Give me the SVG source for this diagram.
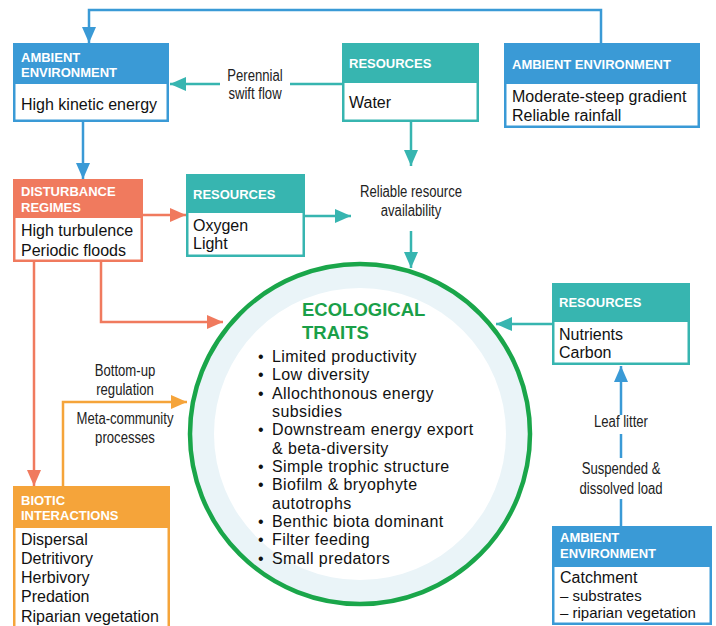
<svg xmlns="http://www.w3.org/2000/svg" width="716" height="626" viewBox="0 0 716 626">
<style>
.hd{font-family:"Liberation Sans",Arial,sans-serif;font-weight:bold;font-size:13px;fill:#fff}
.bd{font-family:"Liberation Sans",Arial,sans-serif;font-size:16px;fill:#111}
.sm{font-family:"Liberation Sans",Arial,sans-serif;font-size:15px;fill:#111}
.lb{font-family:"Liberation Sans",Arial,sans-serif;font-size:16px;fill:#222;text-anchor:middle}
.tr{font-family:"Liberation Sans",Arial,sans-serif;font-size:16px;fill:#111;letter-spacing:0.4px}
.ttl{font-family:"Liberation Sans",Arial,sans-serif;font-weight:bold;font-size:18.5px;fill:#1a9f48}
.blue{fill:#3a9ad6}.teal{fill:#37b5b0}.sal{fill:#f07a5e}.org{fill:#f5a43a}
.wb{fill:#fff}
.c{fill:none;stroke-width:2.5}
.cb{stroke:#3a9ad6}.ct{stroke:#37b5b0}.cs{stroke:#f07a5e}.co{stroke:#f5a43a}
</style>
<defs>
<marker id="ab" markerUnits="userSpaceOnUse" markerWidth="16" markerHeight="14" refX="16" refY="7" orient="auto"><path d="M0,0 L16,7 L0,14 z" fill="#3a9ad6"/></marker>
<marker id="at" markerUnits="userSpaceOnUse" markerWidth="16" markerHeight="14" refX="16" refY="7" orient="auto"><path d="M0,0 L16,7 L0,14 z" fill="#37b5b0"/></marker>
<marker id="as" markerUnits="userSpaceOnUse" markerWidth="16" markerHeight="14" refX="16" refY="7" orient="auto"><path d="M0,0 L16,7 L0,14 z" fill="#f07a5e"/></marker>
<marker id="ao" markerUnits="userSpaceOnUse" markerWidth="16" markerHeight="14" refX="16" refY="7" orient="auto"><path d="M0,0 L16,7 L0,14 z" fill="#f5a43a"/></marker>
</defs>

<g id="connectors">
<polyline class="c cb" points="601,43 601,10 89,10 89,43" marker-end="url(#ab)"/>
<line class="c ct" x1="342" y1="84" x2="290" y2="84"/>
<line class="c ct" x1="220" y1="84" x2="170" y2="84" marker-end="url(#at)"/>
<line class="c cb" x1="83" y1="122" x2="83" y2="179" marker-end="url(#ab)"/>
<line class="c ct" x1="411" y1="122" x2="411" y2="166" marker-end="url(#at)"/>
<line class="c cs" x1="143" y1="215" x2="186" y2="215" marker-end="url(#as)"/>
<line class="c ct" x1="305" y1="216" x2="351" y2="216" marker-end="url(#at)"/>
<line class="c ct" x1="411" y1="231" x2="411" y2="268" marker-end="url(#at)"/>
<polyline class="c cs" points="101,262 101,322 223,322" marker-end="url(#as)"/>
<line class="c cs" x1="34" y1="262" x2="34" y2="486" marker-end="url(#as)"/>
<polyline class="c co" points="63,486 63,402 187,402" marker-end="url(#ao)"/>
<line class="c ct" x1="552" y1="324" x2="496" y2="324" marker-end="url(#at)"/>
<line class="c cb" x1="621" y1="526" x2="621" y2="499"/>
<line class="c cb" x1="621" y1="458" x2="621" y2="434"/>
<line class="c cb" x1="621" y1="415" x2="621" y2="366" marker-end="url(#ab)"/>
<text class="lb" transform="translate(255,81) scale(0.82,1)">Perennial</text>
<text class="lb" transform="translate(255,99) scale(0.82,1)">swift flow</text>
<text class="lb" transform="translate(411,197) scale(0.82,1)">Reliable resource</text>
<text class="lb" transform="translate(411,216) scale(0.82,1)">availability</text>
<text class="lb" transform="translate(125,376) scale(0.82,1)">Bottom-up</text>
<text class="lb" transform="translate(125,395) scale(0.82,1)">regulation</text>
<text class="lb" transform="translate(125,424) scale(0.82,1)">Meta-community</text>
<text class="lb" transform="translate(125,443) scale(0.82,1)">processes</text>
<text class="lb" transform="translate(621,427) scale(0.82,1)">Leaf litter</text>
<text class="lb" transform="translate(621,474) scale(0.82,1)">Suspended &amp;</text>
<text class="lb" transform="translate(621,494) scale(0.82,1)">dissolved load</text>
</g>

<g id="ambient-1">
<rect class="blue" x="13" y="43" width="156" height="79"/>
<rect class="wb" x="15.5" y="84" width="151" height="35.5"/>
<text class="hd" x="21" y="62">AMBIENT</text>
<text class="hd" x="21" y="77">ENVIRONMENT</text>
<text class="bd" x="21" y="110">High kinetic energy</text>
</g>

<g id="resources-water">
<rect class="teal" x="342" y="43" width="137" height="79"/>
<rect class="wb" x="344.5" y="83" width="132" height="36.5"/>
<text class="hd" x="349" y="68">RESOURCES</text>
<text class="bd" x="349" y="108">Water</text>
</g>

<g id="ambient-2">
<rect class="blue" x="504" y="43" width="196" height="85"/>
<rect class="wb" x="506.5" y="84" width="191" height="41.5"/>
<text class="hd" x="512" y="69">AMBIENT ENVIRONMENT</text>
<text class="bd" x="512" y="102">Moderate-steep gradient</text>
<text class="bd" x="512" y="121">Reliable rainfall</text>
</g>

<g id="disturbance">
<rect class="sal" x="13" y="179" width="130" height="83"/>
<rect class="wb" x="15.5" y="218" width="125" height="41.5"/>
<text class="hd" x="21" y="196">DISTURBANCE</text>
<text class="hd" x="21" y="212">REGIMES</text>
<text class="bd" x="21" y="236">High turbulence</text>
<text class="bd" x="21" y="256">Periodic floods</text>
</g>

<g id="resources-oxygen">
<rect class="teal" x="186" y="174" width="119" height="83"/>
<rect class="wb" x="188.5" y="213" width="114" height="41.5"/>
<text class="hd" x="193" y="199">RESOURCES</text>
<text class="bd" x="193" y="231">Oxygen</text>
<text class="bd" x="193" y="249">Light</text>
</g>

<g id="ecological-traits">
<circle cx="360" cy="434" r="170" fill="#eaf4f8" stroke="#1aa64a" stroke-width="4.5"/>
<circle cx="360" cy="434" r="146" fill="#fff"/>
<text class="ttl" x="302" y="316">ECOLOGICAL</text>
<text class="ttl" x="302" y="339">TRAITS</text>
<g class="tr">
<text x="258" y="362">•</text><text x="272" y="362">Limited productivity</text>
<text x="258" y="380">•</text><text x="272" y="380">Low diversity</text>
<text x="258" y="399">•</text><text x="272" y="399">Allochthonous energy</text>
<text x="272" y="417">subsidies</text>
<text x="258" y="435">•</text><text x="272" y="435">Downstream energy export</text>
<text x="272" y="454">&amp; beta-diversity</text>
<text x="258" y="472">•</text><text x="272" y="472">Simple trophic structure</text>
<text x="258" y="490">•</text><text x="272" y="490">Biofilm &amp; bryophyte</text>
<text x="272" y="509">autotrophs</text>
<text x="258" y="527">•</text><text x="272" y="527">Benthic biota dominant</text>
<text x="258" y="545">•</text><text x="272" y="545">Filter feeding</text>
<text x="258" y="564">•</text><text x="272" y="564">Small predators</text>
</g>
</g>

<g id="resources-nutrients">
<rect class="teal" x="552" y="283" width="138" height="82"/>
<rect class="wb" x="554.5" y="322" width="133" height="40.5"/>
<text class="hd" x="559" y="307">RESOURCES</text>
<text class="bd" x="559" y="340">Nutrients</text>
<text class="bd" x="559" y="358">Carbon</text>
</g>

<g id="biotic">
<rect class="org" x="13" y="486" width="157" height="150"/>
<rect class="wb" x="15.5" y="528" width="152" height="110"/>
<text class="hd" x="21" y="505">BIOTIC</text>
<text class="hd" x="21" y="520">INTERACTIONS</text>
<text class="bd" x="21" y="545">Dispersal</text>
<text class="bd" x="21" y="564">Detritivory</text>
<text class="bd" x="21" y="583">Herbivory</text>
<text class="bd" x="21" y="602">Predation</text>
<text class="bd" x="21" y="622">Riparian vegetation</text>
</g>

<g id="ambient-3">
<rect class="blue" x="552" y="526" width="160" height="99"/>
<rect class="wb" x="554.5" y="567" width="155" height="55.5"/>
<text class="hd" x="560" y="542">AMBIENT</text>
<text class="hd" x="560" y="558">ENVIRONMENT</text>
<text class="bd" x="560" y="583">Catchment</text>
<text class="sm" x="560" y="601">– substrates</text>
<text class="sm" x="560" y="618">– riparian vegetation</text>
</g>
</svg>
